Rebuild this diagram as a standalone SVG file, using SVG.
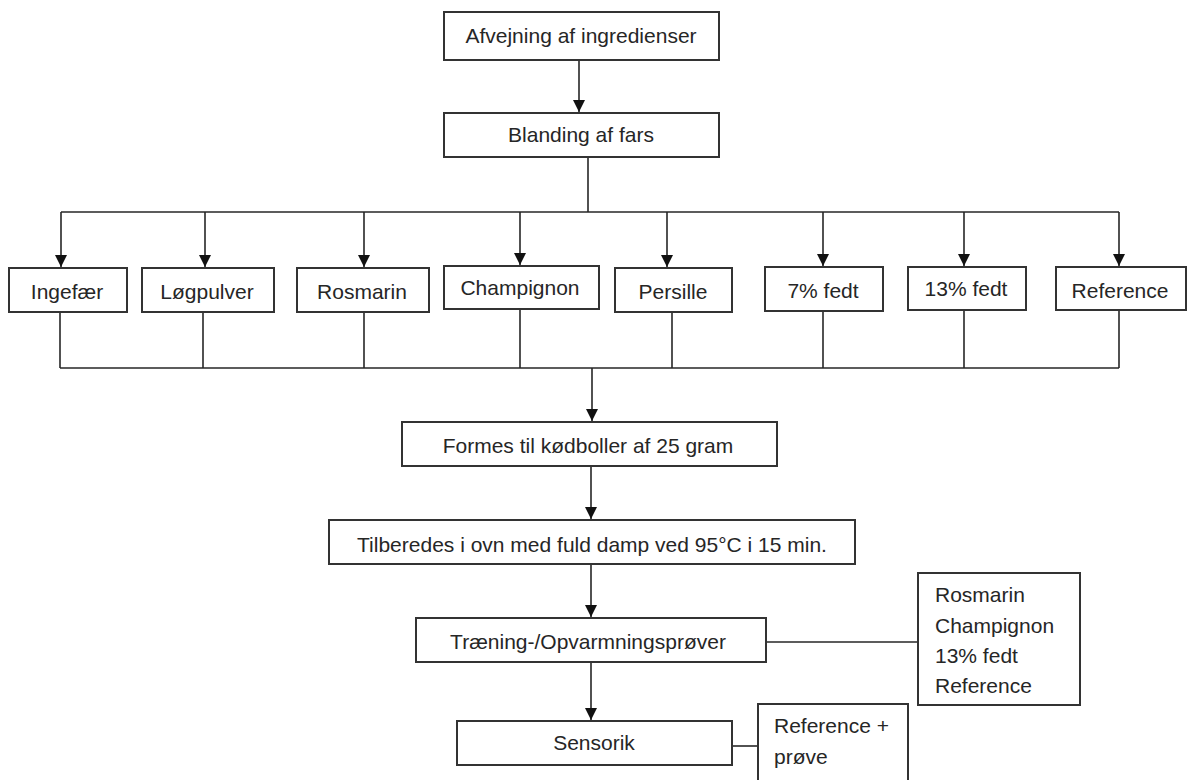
<svg xmlns="http://www.w3.org/2000/svg" width="1187" height="780" viewBox="0 0 1187 780">
<style>
.box{fill:#fff;stroke:#333;stroke-width:2}
.t{font-family:"Liberation Sans",Arial,sans-serif;font-size:21px;fill:#262626;text-anchor:middle}
.tl{font-family:"Liberation Sans",Arial,sans-serif;font-size:21px;fill:#262626}
.c{fill:none;stroke:#262626;stroke-width:1.6}
</style>
<defs>
<marker id="ah" markerUnits="userSpaceOnUse" markerWidth="12" markerHeight="14" viewBox="0 0 12 14" refX="12" refY="6" orient="auto">
<path d="M0,0 L12,6 L0,12 Z" fill="#111"/>
</marker>
</defs>
<rect width="1187" height="780" fill="#fff"/>
<g id="connectors">
<path class="c" d="M579,60 V112" marker-end="url(#ah)"/>
<path class="c" d="M588,157 V212"/>
<path class="c" d="M61,212 H1119"/>
<path class="c" d="M61,212 V267" marker-end="url(#ah)"/>
<path class="c" d="M205,212 V267" marker-end="url(#ah)"/>
<path class="c" d="M364,212 V267" marker-end="url(#ah)"/>
<path class="c" d="M520,212 V265" marker-end="url(#ah)"/>
<path class="c" d="M667,212 V267" marker-end="url(#ah)"/>
<path class="c" d="M823,212 V266" marker-end="url(#ah)"/>
<path class="c" d="M964,212 V266" marker-end="url(#ah)"/>
<path class="c" d="M1119,212 V266" marker-end="url(#ah)"/>
<path class="c" d="M60,312 V368"/>
<path class="c" d="M203,312 V368"/>
<path class="c" d="M364,312 V368"/>
<path class="c" d="M520,309 V368"/>
<path class="c" d="M672,312 V368"/>
<path class="c" d="M823,311 V368"/>
<path class="c" d="M964,310 V368"/>
<path class="c" d="M1119,310 V368"/>
<path class="c" d="M60,368 H1119"/>
<path class="c" d="M592,368 V421" marker-end="url(#ah)"/>
<path class="c" d="M591,466 V519" marker-end="url(#ah)"/>
<path class="c" d="M591,564 V617" marker-end="url(#ah)"/>
<path class="c" d="M591,662 V720" marker-end="url(#ah)"/>
<path class="c" d="M766,642 H918"/>
<path class="c" d="M732,746 H758"/>
</g>
<g id="afvejning"><rect class="box" x="444" y="12" width="275" height="48"/><text class="t" x="581" y="43">Afvejning af ingredienser</text></g>
<g id="blanding"><rect class="box" x="444" y="113" width="275" height="44"/><text class="t" x="581" y="142">Blanding af fars</text></g>
<g id="ingefaer"><rect class="box" x="9" y="268" width="118" height="44"/><text class="t" x="67" y="299">Ingefær</text></g>
<g id="logpulver"><rect class="box" x="142" y="268" width="132" height="44"/><text class="t" x="207" y="299">Løgpulver</text></g>
<g id="rosmarin"><rect class="box" x="297" y="268" width="132" height="44"/><text class="t" x="362" y="299">Rosmarin</text></g>
<g id="champignon"><rect class="box" x="444" y="266" width="155" height="43"/><text class="t" x="520" y="295">Champignon</text></g>
<g id="persille"><rect class="box" x="615" y="268" width="117" height="44"/><text class="t" x="673" y="299">Persille</text></g>
<g id="fedt7"><rect class="box" x="765" y="267" width="118" height="44"/><text class="t" x="823" y="298">7% fedt</text></g>
<g id="fedt13"><rect class="box" x="908" y="267" width="118" height="43"/><text class="t" x="966" y="296">13% fedt</text></g>
<g id="reference"><rect class="box" x="1056" y="267" width="130" height="43"/><text class="t" x="1120" y="298">Reference</text></g>
<g id="formes"><rect class="box" x="402" y="422" width="375" height="44"/><text class="t" x="588" y="453">Formes til kødboller af 25 gram</text></g>
<g id="tilberedes"><rect class="box" x="329" y="520" width="526" height="44"/><text class="t" x="592" y="552">Tilberedes i ovn med fuld damp ved 95°C i 15 min.</text></g>
<g id="traening"><rect class="box" x="416" y="618" width="350" height="44"/><text class="t" x="588" y="649">Træning-/Opvarmningsprøver</text></g>
<g id="sensorik"><rect class="box" x="457" y="721" width="275" height="44"/><text class="t" x="594" y="750">Sensorik</text></g>
<g id="traening-note"><rect class="box" x="918" y="573" width="162" height="132"/>
<text class="tl" x="935" y="602">Rosmarin</text>
<text class="tl" x="935" y="633">Champignon</text>
<text class="tl" x="935" y="663">13% fedt</text>
<text class="tl" x="935" y="693">Reference</text></g>
<g id="sensorik-note"><rect class="box" x="758" y="704" width="150" height="90"/>
<text class="tl" x="774" y="733">Reference +</text>
<text class="tl" x="774" y="764">prøve</text></g>
</svg>
